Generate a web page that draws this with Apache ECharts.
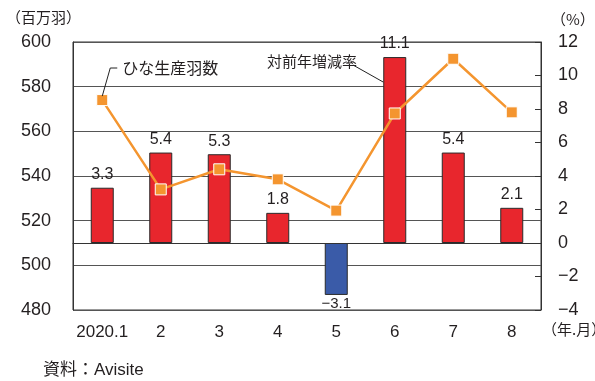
<!DOCTYPE html>
<html><head><meta charset="utf-8">
<script src="https://cdn.jsdelivr.net/npm/echarts@6/dist/echarts.min.js"></script>
<style>html,body{margin:0;padding:0;background:#fff}#c{width:595px;height:381px}</style>
</head><body><div id="c"></div>
<script>
const categories = ['2020.1','2','3','4','5','6','7','8'];
const changePct = [3.3, 5.4, 5.3, 1.8, -3.1, 11.1, 5.4, 2.1];
const chickCount = [574, 534, 543, 538.5, 524.5, 568, 592.5, 568.5];
const leftTicks = {min:480, max:600, interval:20};
const rightTicks = {min:-4, max:12, interval:2};

const FONT = 'Liberation Sans, Arial, "Noto Sans CJK JP", sans-serif';
const JFONT = '"Noto Sans CJK JP", sans-serif';
const TXT = '#231f20';
const chart = echarts.init(document.getElementById('c'), null, {renderer:'canvas'});
const fmtNum = v => (v < 0 ? '\u2212' + Math.abs(v) : String(v));

chart.setOption({
  animation:false,
  backgroundColor:'#fff',
  grid:{left:73, right:54, top:42, bottom:71, show:true, borderColor:'#333', borderWidth:1},
  xAxis:{type:'category', data:categories,
    axisLine:{lineStyle:{color:'#333', width:1}}, axisTick:{show:false},
    axisLabel:{color:TXT, fontSize:17, fontFamily:FONT, margin:14, interval:0}},
  yAxis:[
    {type:'value', min:leftTicks.min, max:leftTicks.max, interval:leftTicks.interval, position:'left',
     axisLine:{show:true, lineStyle:{color:'#333'}}, axisTick:{show:false},
     axisLabel:{color:TXT, fontSize:18, fontFamily:FONT, margin:22},
     splitLine:{show:true, lineStyle:{color:'#555', width:1}}},
    {type:'value', min:rightTicks.min, max:rightTicks.max, interval:rightTicks.interval, position:'right',
     axisLine:{show:true, lineStyle:{color:'#333'}},
     axisTick:{show:true, inside:true, length:6, lineStyle:{color:'#333'}},
     axisLabel:{color:TXT, fontSize:18, fontFamily:FONT, margin:17, formatter:fmtNum},
     splitLine:{show:false}}
  ],
  series:[
    {type:'bar', yAxisIndex:1, barWidth:23, z:2,
     data:changePct.map(v=>({value:v, itemStyle:{color: v<0 ? '#3a5ba8' : '#e8262d'},
        label:{position: v<0 ? 'bottom' : 'top', distance: v<0 ? 1 : 5, fontSize: v<0 ? 15 : 16}})),
     itemStyle:{borderColor:'#2a2a2a', borderWidth:1},
     label:{show:true, color:TXT, fontFamily:FONT, formatter:p=>fmtNum(p.value)},
     markLine:{silent:true, symbol:'none', label:{show:false},
       lineStyle:{color:'#333', type:'solid', width:1}, data:[{yAxis:0}]}},
    {type:'line', yAxisIndex:0, data:chickCount, z:5,
     symbol:'rect', symbolSize:11,
     lineStyle:{color:'#f4952f', width:2.5},
     itemStyle:{color:'#f4952f', borderColor:'#fff', borderWidth:1}}
  ]
});

const p0 = chart.convertToPixel({seriesIndex:1}, [0, chickCount[0]]);
const b5 = chart.convertToPixel({seriesIndex:0}, [5, changePct[5]]);
chart.setOption({graphic:[
  {type:'text', left:6, top:10, style:{text:'（百万羽）', fill:TXT, font:'15px '+JFONT}},
  {type:'text', left:551, top:12, style:{text:'（%）', fill:TXT, font:'15px '+JFONT}},
  {type:'text', left:542, top:322, style:{text:'（年.月）', fill:TXT, font:'15px '+JFONT}},
  {type:'text', left:43, top:362, style:{text:'資料：Avisite', fill:TXT, font:'17px '+FONT}},
  {type:'polyline', shape:{points:[[p0[0], p0[1]-4],[p0[0]+8, 68],[p0[0]+15, 68]]}, style:{stroke:'#222', lineWidth:1, fill:null}, z:10},
  {type:'text', x:p0[0]+20, y:68, style:{text:'ひな生産羽数', fill:TXT, font:'16px '+JFONT, verticalAlign:'middle'}},
  {type:'text', x:267, y:61, style:{text:'対前年増減率', fill:TXT, font:'15px '+JFONT, verticalAlign:'middle'}},
  {type:'line', shape:{x1:353, y1:65, x2:b5[0]-11.5, y2:b5[1]+25}, style:{stroke:'#222', lineWidth:1}, z:10}
]});
</script></body></html>
